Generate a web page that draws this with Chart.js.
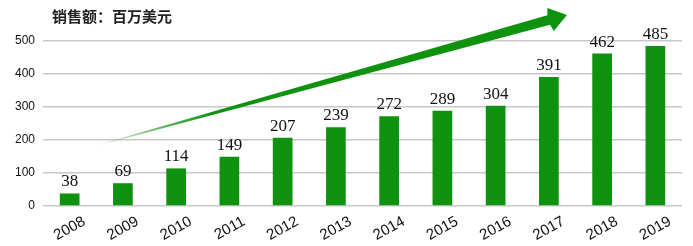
<!DOCTYPE html>
<html>
<head>
<meta charset="utf-8">
<script src="https://cdn.jsdelivr.net/npm/chart.js@4"></script>
<style>
  html, body { margin: 0; padding: 0; background: #fff; }
</style>
</head>
<body>
<canvas id="salesChart" width="693" height="246"></canvas>
<script>
const years = ['2008','2009','2010','2011','2012','2013','2014','2015','2016','2017','2018','2019'];
const sales = [38, 69, 114, 149, 207, 239, 272, 289, 304, 391, 462, 485];
const yTicks = [0, 100, 200, 300, 400, 500];
// trend arrow in data units: [category index, value]
const arrowFrom = [0.5, 183];
const arrowTo = [9.34, 579];

const barGreen = '#0f930f';

// value labels above bars
const valueLabels = {
  id: 'valueLabels',
  afterDatasetsDraw(chart) {
    const ctx = chart.ctx;
    const meta = chart.getDatasetMeta(0);
    ctx.save();
    ctx.font = '17px "Liberation Serif", "DejaVu Serif", serif';
    ctx.fillStyle = '#111';
    ctx.textAlign = 'center';
    ctx.textBaseline = 'bottom';
    meta.data.forEach((bar, i) => {
      ctx.fillText(String(sales[i]), bar.x, bar.y - 3);
    });
    ctx.restore();
  }
};

// slanted year labels under the axis
const yearLabels = {
  id: 'yearLabels',
  afterDraw(chart) {
    const xs = chart.scales.x;
    const base = chart.chartArea.bottom;
    const ctx = chart.ctx;
    ctx.save();
    ctx.font = '15px "Liberation Sans", Arial, sans-serif';
    ctx.fillStyle = '#111';
    ctx.textAlign = 'right';
    ctx.textBaseline = 'top';
    years.forEach((y, i) => {
      ctx.save();
      ctx.translate(xs.getPixelForValue(i) + 11, base + 8);
      ctx.rotate(-29 * Math.PI / 180);
      ctx.fillText(y, 0, 0);
      ctx.restore();
    });
    ctx.restore();
  }
};

// big tapered arrow with fading tail
const trendArrow = {
  id: 'trendArrow',
  afterDatasetsDraw(chart) {
    const xs = chart.scales.x, ys = chart.scales.y;
    const x0 = xs.getPixelForValue(arrowFrom[0]), y0 = ys.getPixelForValue(arrowFrom[1]);
    const x1 = xs.getPixelForValue(arrowTo[0]), y1 = ys.getPixelForValue(arrowTo[1]);
    const dx = x1 - x0, dy = y1 - y0;
    const len = Math.sqrt(dx*dx + dy*dy);
    const ux = dx/len, uy = dy/len;
    const nx = -uy, ny = ux;
    const headLen = 19, headHalf = 12, tailHalf = 0.3, neckHalf = 5;
    const bx = x1 - ux*headLen, by = y1 - uy*headLen;
    const ctx = chart.ctx;
    ctx.save();
    const grad = ctx.createLinearGradient(x0, y0, x1, y1);
    grad.addColorStop(0, 'rgba(15,147,15,0)');
    grad.addColorStop(0.12, 'rgba(15,147,15,0.6)');
    grad.addColorStop(0.25, 'rgba(15,147,15,1)');
    grad.addColorStop(1, 'rgba(15,147,15,1)');
    ctx.fillStyle = grad;
    ctx.beginPath();
    ctx.moveTo(x0 + nx*tailHalf, y0 + ny*tailHalf);
    ctx.lineTo(bx + nx*neckHalf, by + ny*neckHalf);
    ctx.lineTo(bx + nx*headHalf + ux*2, by + ny*headHalf + uy*2);
    ctx.lineTo(x1, y1);
    ctx.lineTo(bx - nx*headHalf + ux*2, by - ny*headHalf + uy*2);
    ctx.lineTo(bx - nx*neckHalf, by - ny*neckHalf);
    ctx.lineTo(x0 - nx*tailHalf, y0 - ny*tailHalf);
    ctx.closePath();
    ctx.fill();
    ctx.restore();
  }
};

// title drawn slightly inset from the plot's left edge
const titleText = '销售额：百万美元';
const titlePlugin = {
  id: 'titleText',
  afterDraw(chart) {
    const ctx = chart.ctx;
    ctx.save();
    ctx.font = 'bold 15px "Noto Sans CJK SC", sans-serif';
    ctx.fillStyle = '#222';
    ctx.textAlign = 'left';
    ctx.textBaseline = 'middle';
    ctx.fillText(titleText, chart.chartArea.left + 9, 16);
    ctx.restore();
  }
};

new Chart(document.getElementById('salesChart').getContext('2d'), {
  type: 'bar',
  data: {
    labels: years,
    datasets: [{
      label: '销售额',
      data: sales,
      backgroundColor: barGreen,
      barPercentage: 0.37,
      categoryPercentage: 1
    }]
  },
  options: {
    responsive: false,
    animation: false,
    layout: { padding: { left: 7, right: 11, top: 41, bottom: 32 } },
    plugins: {
      legend: { display: false },
      tooltip: { enabled: false },
      title: { display: false }
    },
    scales: {
      x: {
        grid: { display: false },
        border: { display: false },
        ticks: { display: false }
      },
      y: {
        min: 0,
        max: 500,
        afterBuildTicks(axis) { axis.ticks = yTicks.map(v => ({ value: v })); },
        grid: { color: '#c8c8c8', lineWidth: 1.5, drawTicks: false },
        border: { display: false },
        ticks: {
          color: '#111',
          font: { family: '"Liberation Sans", Arial, sans-serif', size: 12 },
          padding: 8
        }
      }
    }
  },
  plugins: [valueLabels, trendArrow, yearLabels, titlePlugin]
});
</script>
</body>
</html>
